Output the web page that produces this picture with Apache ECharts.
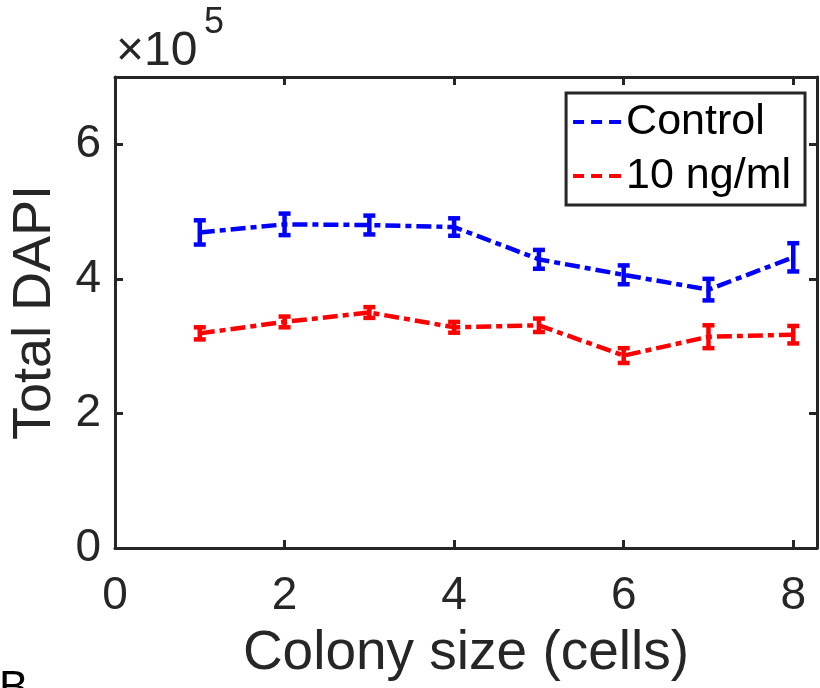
<!DOCTYPE html>
<html lang="en">
  <head>
    <meta charset="UTF-8" />
    <title>Total DAPI</title>
    <script src="https://cdn.jsdelivr.net/npm/echarts@6/dist/echarts.min.js"></script>
    <style>
      html, body { margin: 0; padding: 0; background: #fff; }
      #main { width: 820px; height: 688px; }
    </style>
  </head>
  <body>
    <div id="main"></div>
    <script>
      // colony sizes (cells)
      const sizes = [1, 2, 3, 4, 5, 6, 7, 8]
      // total DAPI, mean and error
      const controlMean = [469000, 481000, 480000, 477000, 429000, 406000, 384000, 432000]
      const controlErr = [18000, 16000, 14000, 13000, 14000, 14000, 16000, 21000]
      const treatedMean = [319000, 336000, 350000, 328000, 331000, 286000, 314000, 317000]
      const treatedErr = [9000, 8000, 8000, 8000, 10000, 11000, 17000, 13000]
      const seriesNames = ['Control', '10 ng/ml']

      const ink = '#262626'
      const font = 'Liberation Sans, Arial, Helvetica, sans-serif'
      const dashDot = [15, 5, 6, 5]
      // three short dashes for the legend key
      const dashIcon = 'path://M0,0h11v4h-11z M18,0h11v4h-11z M36,0h12v4h-12z'

      const myChart = echarts.init(document.getElementById('main'))

      const pairs = (means) => sizes.map((x, i) => [x, means[i]])
      const bars = (means, errs) =>
        sizes.map((x, i) => [x, means[i] - errs[i], means[i] + errs[i]])

      // vertical error bar with caps
      function errorBar(color) {
        return function (params, api) {
          const lo = api.coord([api.value(0), api.value(1)])
          const hi = api.coord([api.value(0), api.value(2)])
          const w = 6
          const style = { stroke: color, lineWidth: 4.5 }
          return {
            type: 'group',
            children: [
              { type: 'line', shape: { x1: lo[0], y1: lo[1], x2: hi[0], y2: hi[1] }, style },
              { type: 'line', shape: { x1: lo[0] - w, y1: lo[1], x2: lo[0] + w, y2: lo[1] }, style },
              { type: 'line', shape: { x1: hi[0] - w, y1: hi[1], x2: hi[0] + w, y2: hi[1] }, style },
            ],
          }
        }
      }

      const frameAxis = {
        axisLine: { show: true, onZero: false, lineStyle: { color: ink, width: 3 } },
        axisTick: { show: true, inside: true, length: 8, lineStyle: { color: ink, width: 3 } },
        splitLine: { show: false },
      }

      const option = {
        animation: false,
        textStyle: { fontFamily: font, color: ink },
        grid: { left: 115, right: 3, top: 77, bottom: 140, outerBoundsMode: 'none', containLabel: false },
        legend: {
          data: seriesNames,
          icon: dashIcon,
          orient: 'vertical',
          right: 15,
          top: 93,
          itemWidth: 48,
          itemHeight: 4,
          itemGap: 8,
          itemTextGap: 8,
          padding: [6, 14, 6, 7],
          borderColor: ink,
          borderWidth: 3,
          backgroundColor: '#fff',
          textStyle: { fontSize: 43, color: '#000', fontFamily: font, lineHeight: 46 },
        },
        xAxis: [
          {
            type: 'value',
            position: 'bottom',
            min: 0,
            max: 8.28,
            interval: 2,
            ...frameAxis,
            axisLabel: {
              fontSize: 46,
              color: ink,
              margin: 25,
              showMaxLabel: false,
              formatter: (v) => (v % 2 === 0 ? String(v) : ''),
            },
            name: 'Colony size (cells)',
            nameLocation: 'middle',
            nameGap: 78,
            nameTextStyle: { fontSize: 55, color: ink },
          },
          {
            type: 'value',
            position: 'top',
            min: 0,
            max: 8.28,
            interval: 2,
            ...frameAxis,
            axisLabel: { show: false },
          },
        ],
        yAxis: [
          {
            type: 'value',
            position: 'left',
            min: 0,
            max: 700000,
            interval: 200000,
            ...frameAxis,
            axisLabel: {
              fontSize: 46,
              color: ink,
              margin: 14,
              showMaxLabel: false,
              formatter: (v) => (v % 200000 === 0 ? String(v / 100000) : ''),
            },
            name: 'Total DAPI',
            nameLocation: 'middle',
            nameGap: 53,
            nameTextStyle: { fontSize: 54, color: ink },
          },
          {
            type: 'value',
            position: 'right',
            min: 0,
            max: 700000,
            interval: 200000,
            ...frameAxis,
            axisLabel: { show: false },
          },
        ],
        graphic: [
          {
            type: 'text',
            left: 116,
            top: 28,
            style: { text: '×10', fontSize: 48, fill: ink, fontFamily: font },
          },
          {
            type: 'text',
            left: 204,
            top: 5,
            style: { text: '5', fontSize: 36, fill: ink, fontFamily: font },
          },
          {
            type: 'text',
            left: -1,
            top: 668,
            style: { text: 'B', fontSize: 44, fill: '#000', fontFamily: font },
          },
        ],
        series: [
          {
            name: seriesNames[0],
            type: 'line',
            data: pairs(controlMean),
            symbol: 'none',
            color: '#0000ff',
            lineStyle: { color: '#0000ff', width: 4.5, type: dashDot },
          },
          {
            name: seriesNames[1],
            type: 'line',
            data: pairs(treatedMean),
            symbol: 'none',
            color: '#ff0000',
            lineStyle: { color: '#ff0000', width: 4.5, type: dashDot },
          },
          {
            name: seriesNames[0] + ' error',
            type: 'custom',
            renderItem: errorBar('#0000ff'),
            data: bars(controlMean, controlErr),
            encode: { x: 0, y: [1, 2] },
            z: 3,
          },
          {
            name: seriesNames[1] + ' error',
            type: 'custom',
            renderItem: errorBar('#ff0000'),
            data: bars(treatedMean, treatedErr),
            encode: { x: 0, y: [1, 2] },
            z: 3,
          },
        ],
      }

      myChart.setOption(option)
    </script>
  </body>
</html>
